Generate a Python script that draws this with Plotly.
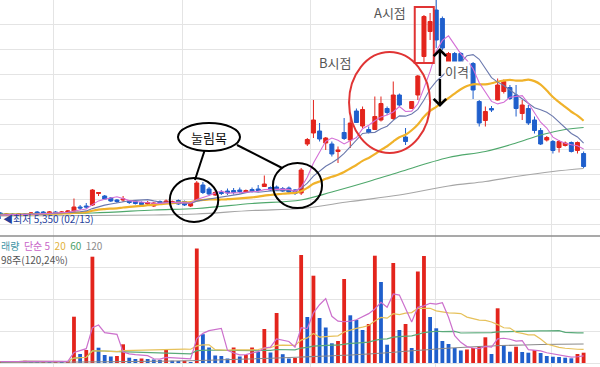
import plotly.graph_objects as go
import pandas as pd

# ---------------- data ----------------
opens = [5470, 5430, 5450, 5430, 5450, 5450, 5490, 5490, 5470, 5490, 5470, 5490,
         5510, 5590, 5610, 5630, 5860, 5810, 5770, 5730, 5730, 5710, 5700, 5680,
         5650, 5610, 5700, 5670, 5680, 5720, 5700, 5610, 5730, 6030, 5950, 5830,
         5880, 5910, 5920, 5930, 5880, 5940, 5950, 6000, 5980, 5990, 5960, 5970,
         5930, 5870, 6850, 7070, 7110, 6870, 6850, 6700, 7080, 6930, 7510, 7210,
         7140, 7140, 7330, 7560, 7360, 7830, 6990, 7560, 7830, 8600, 9100, 9530,
         9360, 8460, 8660, 8660, 8300, 8460, 7700, 7320, 7560, 7730, 7900, 7980,
         7830, 7460, 7560, 7330, 7120, 6930, 6900, 6780, 6820, 6880, 6720, 6660]
highs = [5490, 5470, 5470, 5470, 5470, 5490, 5510, 5510, 5510, 5510, 5510, 5530,
         5760, 5630, 5670, 5950, 5890, 5830, 5790, 5750, 5810, 5730, 5720, 5700,
         5710, 5690, 5720, 5740, 5720, 5740, 5720, 5680, 6110, 6090, 5990, 5910,
         5930, 5960, 5970, 5980, 5940, 5980, 6030, 6220, 6000, 6020, 5990, 6000,
         5950, 6370, 6970, 7730, 7270, 6990, 6900, 6800, 7370, 7400, 7560, 7600,
         7200, 7800, 7800, 7600, 8100, 7860, 7170, 7710, 8230, 9430, 9470, 9800,
         9400, 8690, 8690, 8690, 8340, 8490, 7730, 7600, 7610, 8160, 8140, 8030,
         8030, 7730, 7630, 7400, 7170, 7010, 6930, 6930, 6900, 6900, 6900, 6700]
lows = [5350, 5410, 5410, 5410, 5410, 5430, 5450, 5450, 5450, 5450, 5450, 5470,
        5490, 5530, 5550, 5610, 5810, 5740, 5690, 5670, 5690, 5650, 5640, 5620,
        5630, 5590, 5650, 5650, 5660, 5630, 5610, 5590, 5710, 5850, 5810, 5810,
        5830, 5830, 5840, 5860, 5870, 5880, 5900, 5990, 5910, 5920, 5890, 5870,
        5830, 5830, 6810, 6970, 6900, 6730, 6600, 6470, 6930, 6770, 7270, 7170,
        7060, 7130, 7300, 7430, 7330, 7600, 6830, 7550, 7730, 8470, 8930, 8770,
        8730, 8410, 8430, 8430, 8260, 7750, 7200, 7200, 7490, 7720, 7860, 7730,
        7400, 7330, 7230, 7060, 6830, 6900, 6660, 6680, 6800, 6680, 6660, 6370]
closes = [5430, 5450, 5430, 5450, 5430, 5470, 5470, 5470, 5490, 5470, 5490, 5510,
          5590, 5570, 5590, 5930, 5880, 5750, 5710, 5700, 5750, 5680, 5660, 5640,
          5680, 5670, 5660, 5710, 5700, 5650, 5630, 5660, 6070, 5880, 5850, 5880,
          5860, 5870, 5880, 5900, 5920, 5900, 5920, 6050, 5930, 5930, 5910, 5890,
          5860, 6330, 6940, 7330, 6950, 6970, 6650, 6730, 6960, 7270, 7280, 7540,
          7080, 7400, 7660, 7480, 7830, 7630, 6900, 7700, 8210, 9400, 9300, 8930,
          8770, 8660, 8450, 8450, 8280, 7930, 7270, 7500, 7530, 8030, 8100, 7760,
          7560, 7630, 7270, 7120, 6850, 6980, 6720, 6900, 6870, 6700, 6880, 6400]
# volume, thousand shares
volumes = [15, 10, 18, 12, 22, 14, 10, 16, 12, 18, 13, 20,
           463, 90, 130, 1063, 153, 80, 65, 70, 187, 53, 40, 45,
           40, 35, 30, 130, 23, 17, 23, 10, 1145, 288, 155, 75,
           70, 45, 155, 65, 80, 155, 110, 340, 105, 500, 88, 45,
           50, 1080, 460, 873, 450, 355, 197, 220, 840, 477, 430, 330,
           390, 1073, 810, 183, 1000, 330, 390, 150, 915, 1070, 460, 347,
           220, 190, 150, 125, 135, 150, 163, 257, 90, 547, 180, 113,
           163, 110, 103, 130, 100, 70, 63, 60, 53, 47, 90, 103]

# long moving averages (candle index, value)
ma60_idx = [0, 15, 25, 32, 41, 49, 54, 60, 65, 73, 79, 84, 88, 92, 95]
ma60_val = [5450, 5470, 5530, 5560, 5660, 5730, 5890, 6100, 6290, 6580, 6700, 6870, 7030, 7140, 7180]
ma120_idx = [0, 15, 25, 32, 41, 49, 57, 65, 73, 79, 84, 90, 95]
ma120_val = [5410, 5420, 5430, 5450, 5520, 5560, 5700, 5830, 6010, 6100, 6200, 6300, 6360]
vma120_idx = [0, 32, 49, 60, 71, 80, 88, 95]
vma120_val = [5, 25, 60, 90, 140, 170, 185, 190]

month_breaks = [8.6, 29.75, 50.6, 70.8, 89.85]
low_label = "◀최저 5,350 (02/13)"

# ---------------- derived ----------------
n = len(closes)
x = list(range(n))
sc = pd.Series(closes)
ma5 = sc.rolling(5, min_periods=1).mean()
ma10 = sc.rolling(10, min_periods=1).mean()
ma20 = sc.rolling(20, min_periods=1).mean()
sv = pd.Series(volumes)
vma5 = sv.rolling(5, min_periods=1).mean()
vma20 = sv.rolling(20, min_periods=1).mean()
vma60 = sv.rolling(60, min_periods=1).mean()

RED = "#e3241c"
BLUE = "#1f5fcc"
vol_colors = [RED if (i > 0 and volumes[i] > volumes[i - 1]) else BLUE for i in range(n)]
vol_colors[0] = RED

FONT = "Noto Sans CJK KR"
GRID = "#e4e4e4"

fig = go.Figure()

# price moving averages
fig.add_trace(go.Scatter(x=ma120_idx, y=ma120_val, mode="lines", line=dict(color="#a6a6a6", width=1.2, shape="spline"),
                         xaxis="x", yaxis="y", hoverinfo="skip"))
fig.add_trace(go.Scatter(x=ma60_idx, y=ma60_val, mode="lines", line=dict(color="#4fa86c", width=1.2, shape="spline"),
                         xaxis="x", yaxis="y", hoverinfo="skip"))
fig.add_trace(go.Scatter(x=x, y=ma20, mode="lines", line=dict(color="#f0b22a", width=2.2, shape="spline"),
                         xaxis="x", yaxis="y", hoverinfo="skip"))
fig.add_trace(go.Scatter(x=x, y=ma10, mode="lines", line=dict(color="#6a78ad", width=1.1),
                         xaxis="x", yaxis="y", hoverinfo="skip"))
fig.add_trace(go.Scatter(x=x, y=ma5, mode="lines", line=dict(color="#d46fd6", width=1.1),
                         xaxis="x", yaxis="y", hoverinfo="skip"))

fig.add_trace(go.Candlestick(
    x=x, open=opens, high=highs, low=lows, close=closes,
    increasing=dict(line=dict(color=RED, width=1), fillcolor=RED),
    decreasing=dict(line=dict(color=BLUE, width=1), fillcolor=BLUE),
    whiskerwidth=0, xaxis="x", yaxis="y", hoverinfo="skip"))

# volume
fig.add_trace(go.Bar(x=x, y=volumes, marker=dict(color=vol_colors, line=dict(width=0)), width=0.62,
                     xaxis="x2", yaxis="y2", hoverinfo="skip"))
fig.add_trace(go.Scatter(x=vma120_idx, y=vma120_val, mode="lines", line=dict(color="#8a8a8a", width=1.1, shape="spline"),
                         xaxis="x2", yaxis="y2", hoverinfo="skip"))
fig.add_trace(go.Scatter(x=x, y=vma60, mode="lines", line=dict(color="#5aaa7a", width=1.2),
                         xaxis="x2", yaxis="y2", hoverinfo="skip"))
fig.add_trace(go.Scatter(x=x, y=vma20, mode="lines", line=dict(color="#e6c15a", width=1.2),
                         xaxis="x2", yaxis="y2", hoverinfo="skip"))
fig.add_trace(go.Scatter(x=x, y=vma5, mode="lines", line=dict(color="#cc70cc", width=1.2),
                         xaxis="x2", yaxis="y2", hoverinfo="skip"))

split = 131 / 367
xr = [-0.049, 97.67]

shapes = [
    dict(type="line", xref="paper", yref="paper", x0=0, x1=1, y0=split, y1=split,
         line=dict(color="#8c8c8c", width=1.5)),
    # 눌림목 ellipse + connectors + circles
    dict(type="line", xref="x", yref="y", x0=33.3, y0=6730, x1=31.7, y1=6130, line=dict(color="black", width=2)),
    dict(type="line", xref="x", yref="y", x0=38.55, y0=6830, x1=45.9, y1=6370, line=dict(color="black", width=2)),
    dict(type="circle", xref="x", yref="y", x0=28.94, x1=39.04, y0=6710, y1=7270,
         line=dict(color="black", width=2), fillcolor="white"),
    dict(type="circle", xref="x", yref="y", x0=27.6, x1=35.5, y0=5290, y1=6170, line=dict(color="black", width=2)),
    dict(type="circle", xref="x", yref="y", x0=44.4, x1=52.4, y0=5570, y1=6470, line=dict(color="black", width=2)),
    # B point ellipse and A point box
    dict(type="circle", xref="x", yref="y", x0=56.8, x1=70.0, y0=6670, y1=8690, line=dict(color="#e03434", width=2)),
    dict(type="rect", xref="x", yref="y", x0=67.5, x1=70.6, y0=8470, y1=9590, line=dict(color="#e03434", width=2)),
]

legend_line1 = ('<span style="color:#3f95a6">래량</span>  '
                '<span style="color:#c865c8">단순 5</span>  '
                '<span style="color:#e2b23c">20</span>  '
                '<span style="color:#4aa068">60</span>  '
                '<span style="color:#8c8c8c">120</span>')
legend_line2 = "98주(120,24%)"

annotations = [
    dict(x=34.0, y=6990, xref="x", yref="y", text="눌림목", showarrow=False,
         font=dict(family=FONT, size=13, color="#111")),
    dict(x=63.5, y=9490, xref="x", yref="y", text="A시점", showarrow=False,
         font=dict(family=FONT, size=13, color="#555")),
    dict(x=54.5, y=8490, xref="x", yref="y", text="B시점", showarrow=False,
         font=dict(family=FONT, size=13, color="#555")),
    dict(x=74.4, y=8310, xref="x", yref="y", text="이격", showarrow=False, bgcolor="white",
         font=dict(family=FONT, size=13, color="#555"), borderpad=0),
    dict(x=71.6, y=8770, xref="x", yref="y", ax=71.6, ay=8180, axref="x", ayref="y", text="",
         showarrow=True, arrowhead=4, arrowsize=1, arrowwidth=2.4, arrowcolor="black"),
    dict(x=71.6, y=7590, xref="x", yref="y", ax=71.6, ay=8180, axref="x", ayref="y", text="",
         showarrow=True, arrowhead=4, arrowsize=1, arrowwidth=2.4, arrowcolor="black"),
    dict(x=0.002, y=5360, xref="paper", yref="y", xanchor="left", yanchor="middle", text=low_label,
         showarrow=False, font=dict(family=FONT, size=10, color="#24409a")),
    dict(x=0.0, y=1 - 237 / 367, xref="paper", yref="paper", xanchor="left", yanchor="top", align="left",
         text=legend_line1, showarrow=False, font=dict(family=FONT, size=10), borderpad=0),
    dict(x=0.0, y=1 - 251 / 367, xref="paper", yref="paper", xanchor="left", yanchor="top", align="left",
         text=legend_line2, showarrow=False, font=dict(family=FONT, size=10, color="#555555"), borderpad=0),
]

fig.update_layout(
    width=600, height=367, margin=dict(l=0, r=0, t=0, b=0),
    paper_bgcolor="white", plot_bgcolor="white", showlegend=False,
    boxgap=0.35, boxgroupgap=0,
    xaxis=dict(domain=[0, 1], range=xr, anchor="y", tickvals=month_breaks, showticklabels=False,
               ticks="", showgrid=True, gridcolor=GRID, zeroline=False, rangeslider=dict(visible=False),
               fixedrange=True),
    xaxis2=dict(domain=[0, 1], range=xr, anchor="y2", matches="x", tickvals=month_breaks,
                showticklabels=False, ticks="", showgrid=True, gridcolor=GRID, zeroline=False),
    yaxis=dict(domain=[split, 1], range=[5010, 9730], tick0=5250, dtick=500, showticklabels=False,
               ticks="", showgrid=True, gridcolor=GRID, zeroline=False),
    yaxis2=dict(domain=[0, split], range=[-40, 1270], tick0=0, dtick=320, showticklabels=False,
                ticks="", showgrid=True, gridcolor=GRID, zeroline=False),
    shapes=shapes, annotations=annotations,
)

fig.write_html("out.html", config={"displayModeBar": False},
               post_script="document.body.style.margin='0px';document.body.style.overflow='hidden';")
